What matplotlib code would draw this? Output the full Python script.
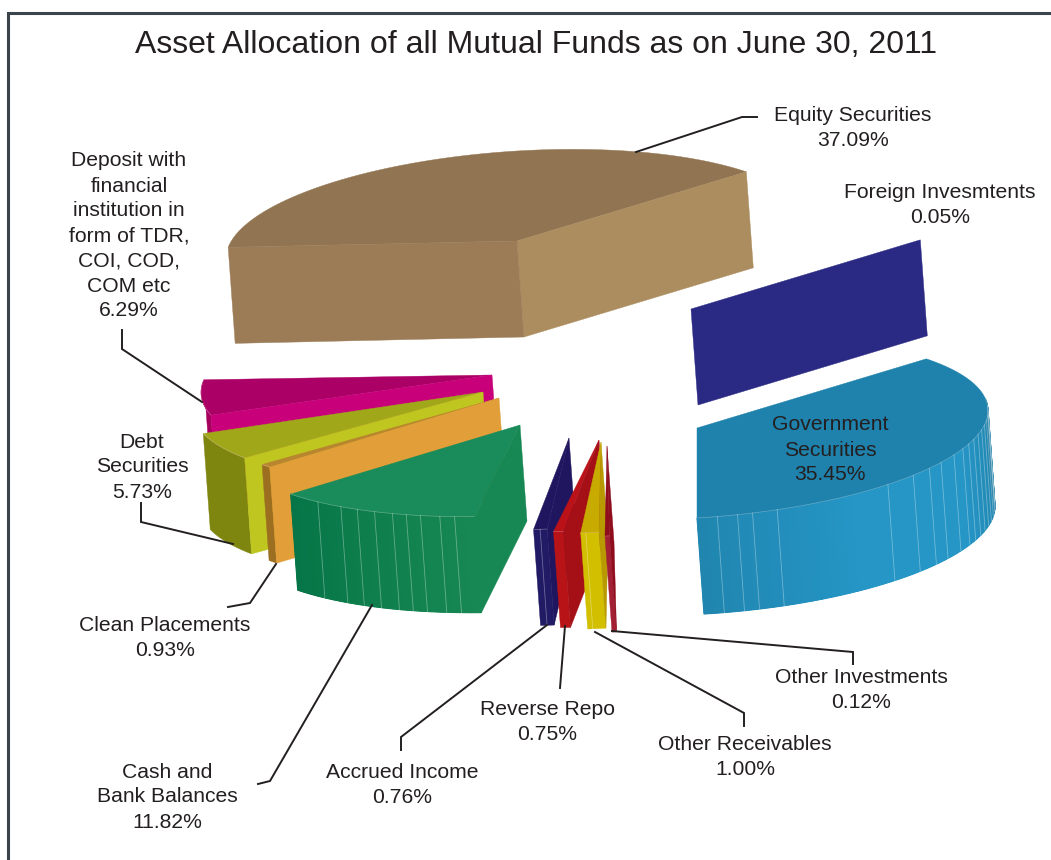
import numpy as np
import matplotlib
matplotlib.use("Agg")
import matplotlib.pyplot as plt
from matplotlib.colors import to_rgb

plt.rcParams['font.family'] = ['Liberation Sans', 'DejaVu Sans']

title = "Asset Allocation of all Mutual Funds as on June 30, 2011"

# chart values
categories = ["Equity Securities", "Foreign Invesmtents", "Government\nSecurities",
              "Deposit with\nfinancial\ninstitution in\nform of TDR,\nCOI, COD,\nCOM etc",
              "Debt\nSecurities", "Clean Placements", "Cash and\nBank Balances",
              "Accrued Income", "Reverse Repo", "Other Receivables", "Other Investments"]
shares = [37.09, 0.05, 35.45, 6.29, 5.73, 0.93, 11.82, 0.76, 0.75, 1.00, 0.12]

# layout of each slice, the picture's angles do not follow the shares
apex_x = [517, 691, 697, 492, 483, 499, 520, 569, 599, 601, 607]
apex_y = [241, 309, 428, 375, 392, 398, 425, 438, 440, 442, 446]
angle_from = [38, 38, 270, 172, 196, 215.5, 218, 263, 261, 266, 269.6]
angle_to = [173, 38, 398, 195, 215, 218, 261, 265.7, 263, 269.6, 270.5]
rim_end = [None, None, 368, 195, 215, 218, 261, 265.7, 263, 269.6, 270.5]

top_colors = ["#917552", None, "#1f82ac", "#ab0066", "#a0a81a", "#b8862e", "#1a8b5a",
              "#1f165f", "#bb1219", "#c8ab00", "#8e0c1c"]
rim_colors = [None, None, ["#2086b0", "#2596c6", "#2596c6", "#1e7da4"],
              ["#a5005e", "#a5005e"], ["#7f8610", "#7f8610"], ["#9c6e20", "#9c6e20"],
              ["#067547", "#178853"], ["#211a64", "#211a64"], ["#b81418", "#b81418"],
              ["#d2bf00", "#d2bf00"], ["#a31f33", "#a31f33"]]
radial_colors = [{38: "#ac8d60", 173: "#9b7c56"}, {38: "#2a2a84"}, {},
                 {195: "#c8007a"}, {215: "#bfc61f"}, {218: "#e29e38"}, {261: "#178853"},
                 {265.7: "#1f165f"}, {263: "#a50f16"}, {269.6: "#b89a00"}, {270.5: "#8e0c1c"}]
facets = [[], [], [274, 278, 281, 286, 311, 318, 323, 327, 332, 336, 339, 342, 345, 348, 351, 354, 357, 360, 363],
          [], [], [], [226, 232, 236, 240, 244, 247, 250, 254, 257], [264.3], [], [267], []]

label_x = [853, 940, 830, 129, 142, 165, 167, 402, 547, 745, 861]
label_y = [128, 205, 450, 236, 467, 638, 797, 785, 722, 757, 690]

leaders = [[(636, 152), (742, 117), (757, 117)],
           [(122, 330), (122, 349), (202, 402)],
           [(141, 503), (141, 522), (233, 544)],
           [(228, 607), (250, 603), (276, 564)],
           [(258, 784), (270, 781), (372, 605)],
           [(401, 750), (401, 737), (547, 625)],
           [(560, 688), (565, 626)],
           [(595, 632), (744, 713), (744, 726)],
           [(612, 631), (853, 652), (853, 664)]]

RX, RY, SHEAR = 291, 90, 0.06
DROP_X, DROP_Y = 7, 96
TEXT = "#231f20"


def rim_point(ax_, ay_, t):
    t = np.radians(t)
    dx = RX * np.cos(t)
    return ax_ + dx, ay_ - RY * np.sin(t) - SHEAR * dx


def shade(stops, frac):
    rgb = np.array([to_rgb(c) for c in stops])
    pos = np.linspace(0, 1, len(stops))
    return tuple(np.interp(frac, pos, rgb[:, i]) for i in range(3))


fig = plt.figure(figsize=(10.51, 8.60), dpi=100)
ax = fig.add_axes([0, 0, 1, 1])
ax.set_xlim(0, 1051)
ax.set_ylim(860, 0)
ax.axis("off")

for i in range(len(categories)):
    x0, y0 = apex_x[i], apex_y[i]
    t0, t1 = angle_from[i], angle_to[i]

    # outer rim: one base shape, then wider strips so the shade can run along it
    if rim_colors[i]:
        ts = np.linspace(t0, rim_end[i], 120)
        xs, ys = rim_point(x0, y0, ts)
        base = shade(rim_colors[i], 0.5)
        ax.fill(np.r_[xs, xs[::-1] + DROP_X], np.r_[ys, ys[::-1] + DROP_Y],
                facecolor=base, edgecolor=base, lw=0.3)
        if len(set(rim_colors[i])) > 1:
            n_strips = int((rim_end[i] - t0) / 2)
            edges = np.linspace(t0, rim_end[i], n_strips + 1)
            for k in range(n_strips):
                xa, ya = rim_point(x0, y0, edges[k])
                xb, yb = rim_point(x0, y0, edges[k + 1])
                c = shade(rim_colors[i], k / max(n_strips - 1, 1))
                ax.fill([xa, xb, xb + DROP_X, xa + DROP_X], [ya, yb, yb + DROP_Y, ya + DROP_Y],
                        facecolor=c, edgecolor=c, lw=0.8)
        for t in facets[i]:
            xa, ya = rim_point(x0, y0, t)
            ax.plot([xa, xa + DROP_X], [ya, ya + DROP_Y], color="white", lw=0.6, alpha=0.35)

    # top face
    if top_colors[i]:
        ts = np.linspace(t0, t1, 120)
        xs, ys = rim_point(x0, y0, ts)
        ax.fill(np.r_[x0, xs], np.r_[y0, ys], facecolor=top_colors[i],
                edgecolor=top_colors[i], lw=0.3)
        if rim_colors[i]:
            ts = np.linspace(t0, rim_end[i], 120)
            xs, ys = rim_point(x0, y0, ts)
            ax.plot(xs, ys, color="white", lw=0.5, alpha=0.3)

    # flat cut faces
    for t, c in radial_colors[i].items():
        xa, ya = rim_point(x0, y0, t)
        ax.fill([x0, xa, xa + DROP_X, x0 + DROP_X], [y0, ya, ya + DROP_Y, y0 + DROP_Y],
                facecolor=c, edgecolor=c, lw=0.3)

for line in leaders:
    xs, ys = zip(*line)
    ax.plot(xs, ys, color=TEXT, lw=1.4, solid_joinstyle="miter")

for name, share, x, y in zip(categories, shares, label_x, label_y):
    ax.text(x, y, f"{name}\n{share:.2f}%", ha="center", va="center", fontsize=15.2,
            color=TEXT, linespacing=1.40)

ax.text(536, 45, title, ha="center", va="center", fontsize=23, color=TEXT)

# frame, only top and left sides show
ax.plot([8, 8, 1051], [860, 13, 13], color="#3a444c", lw=2.2, solid_joinstyle="miter")

fig.savefig("out.png", dpi=100)
